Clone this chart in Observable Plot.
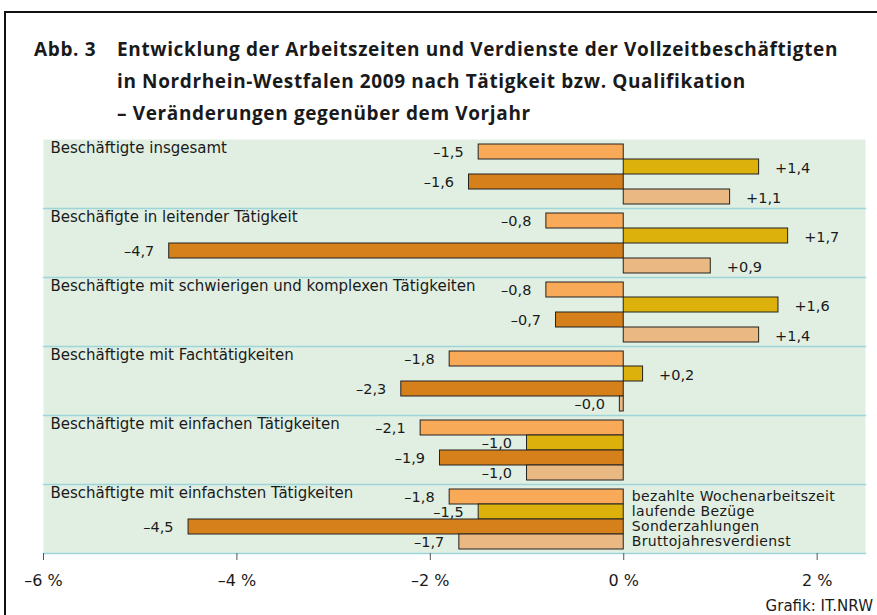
<!DOCTYPE html>
<html>
<head>
<meta charset="utf-8">
<script src="https://cdn.jsdelivr.net/npm/d3@7"></script>
<script src="https://cdn.jsdelivr.net/npm/@observablehq/plot@0.6"></script>
<style>
  html, body { margin: 0; padding: 0; background: #fff; }
  #fig { position: relative; width: 877px; height: 615px; overflow: hidden; font-family: "DejaVu Sans", sans-serif; color: #1a1a1a; }
  #border { position: absolute; left: 4px; top: 11px; width: 1000px; height: 1000px; border-left: 2px solid #111; border-top: 2px solid #111; box-sizing: border-box; }
  #abb, #title { position: absolute; top: 33px; font-family: "Open Sans", sans-serif; font-weight: 700; font-size: 19px; line-height: 32px; white-space: nowrap; }
  #abb { left: 34px; }
  #title { left: 117px; }
  #chart { position: absolute; left: 0; top: 130px; }
  #caption { position: absolute; right: 4px; top: 597px; font-size: 15px; white-space: nowrap; }
  .legend-label text { letter-spacing: 0.35px; }
</style>
</head>
<body>
<div id="fig">
  <div id="border"></div>
  <div id="abb">Abb. 3</div>
  <div id="title">
    <div id="t1">Entwicklung der Arbeitszeiten und Verdienste der Vollzeitbeschäftigten</div>
    <div>in Nordrhein-Westfalen 2009 nach Tätigkeit bzw. Qualifikation</div>
    <div>– Veränderungen gegenüber dem Vorjahr</div>
  </div>
  <div id="chart"></div>
  <div id="caption">Grafik: IT.NRW</div>
</div>
<script>
const categories = [
  "Beschäftigte insgesamt",
  "Beschäfigte in leitender Tätigkeit",
  "Beschäftigte mit schwierigen und komplexen Tätigkeiten",
  "Beschäftigte mit Fachtätigkeiten",
  "Beschäftigte mit einfachen Tätigkeiten",
  "Beschäftigte mit einfachsten Tätigkeiten"
];
const series = ["bezahlte Wochenarbeitszeit", "laufende Bezüge", "Sonderzahlungen", "Bruttojahresverdienst"];
const wochenarbeitszeit = [-1.5, -0.8, -0.8, -1.8, -2.1, -1.8];
const laufendeBezuege   = [1.4, 1.7, 1.6, 0.2, -1.0, -1.5];
const sonderzahlungen   = [-1.6, -4.7, -0.7, -2.3, -1.9, -4.5];
const bruttojahresverd  = [1.1, 0.9, 1.4, -0.04, -1.0, -1.7];
const xTicks = [-6, -4, -2, 0, 2];
const colors = ["#f9aa58", "#dcb10b", "#d6801b", "#eab883"];

const seriesValues = [wochenarbeitszeit, laufendeBezuege, sonderzahlungen, bruttojahresverd];
const rows = categories.flatMap((c, i) => series.map((s, j) => ({category: c, series: s, value: seriesValues[j][i]})));
const fmt = v => (v < 0 ? "\u2013" : "+") + Math.abs(v).toFixed(1).replace(".", ",");

// fit title width: pick font-stretch closest to the target width
const t1 = document.getElementById("t1");
const titleEls = [document.getElementById("title"), document.getElementById("abb")];
let best = {s: 100, d: Infinity};
for (let s = 75; s <= 100; s += 2.5) {
  titleEls.forEach(el => el.style.fontStretch = s + "%");
  const d = Math.abs(t1.getBoundingClientRect().width - 721);
  if (d < best.d) best = {s, d};
}
titleEls.forEach(el => el.style.fontStretch = best.s + "%");
const ls = (721 - t1.getBoundingClientRect().width) / t1.textContent.length;
titleEls.forEach(el => el.style.letterSpacing = ls + "px");

const chart = Plot.plot({
  width: 877,
  height: 485,
  marginTop: 7,
  marginBottom: 60,
  marginLeft: 43,
  marginRight: 12,
  x: {domain: [-6, 2.5]},
  y: {domain: series, axis: null, padding: 0, insetTop: 4, insetBottom: 3},
  fy: {domain: categories, axis: null, padding: 0},
  color: {domain: series, range: colors},
  style: {fontFamily: "DejaVu Sans, sans-serif", fontSize: "14px", color: "#1a1a1a", background: "transparent", overflow: "visible"},
  marks: [
    Plot.frame({fill: "#e1efe2", stroke: null}),
    Plot.frame({anchor: "bottom", stroke: "#9dd5d9", strokeWidth: 1.5}),
    Plot.barX(rows, {x: "value", y: "series", fy: "category", fill: "series", stroke: "#222", strokeWidth: 1}),
    Plot.text(categories, {fy: d => d, text: d => d, frameAnchor: "top-left", lineAnchor: "top", dx: 7, dy: 3, fontSize: 15, fill: "#1a1a1a"}),
    Plot.text(rows.filter(d => d.value < 0), {x: "value", y: "series", fy: "category", text: d => fmt(d.value), textAnchor: "end", dx: -15, fontSize: 14.5, fill: "#1a1a1a"}),
    Plot.text(rows.filter(d => d.value >= 0), {x: "value", y: "series", fy: "category", text: d => fmt(d.value), textAnchor: "start", dx: 16, dy: 1, fontSize: 14.5, fill: "#1a1a1a"}),
    Plot.text(series, {fy: () => categories[categories.length - 1], y: d => d, x: () => 0, text: d => d, textAnchor: "start", dx: 8, fontSize: 14, className: "legend-label", fill: "#1a1a1a"}),
    Plot.axisX({ticks: xTicks, tickFormat: d => (d < 0 ? "\u2013" : "") + Math.abs(d) + " %", tickSize: 7, tickPadding: 14, fontSize: 16, line: true, stroke: "#555", fill: "#1a1a1a", label: null})
  ]
});
document.getElementById("chart").appendChild(chart);
</script>
</body>
</html>
